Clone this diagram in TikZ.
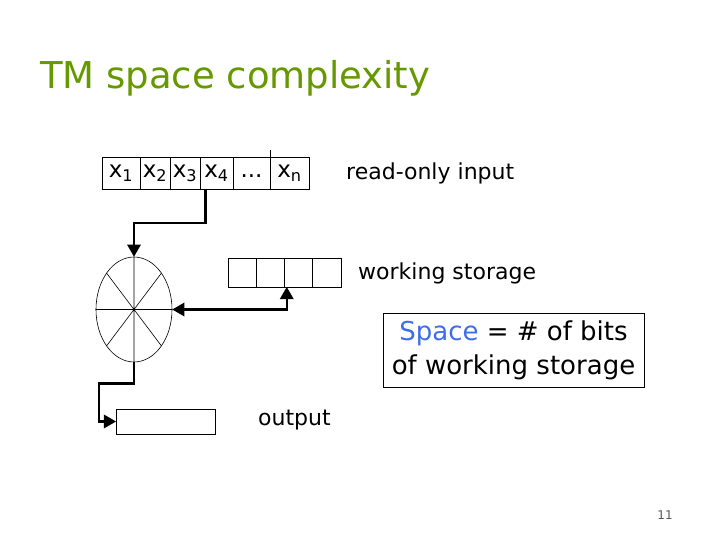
\documentclass[tikz,border=0pt]{standalone}
\usepackage{fontspec}
\setmainfont{DejaVu Sans}
\usetikzlibrary{arrows,positioning,shapes.geometric}
\definecolor{titlegreen}{RGB}{102,153,0}
\definecolor{spaceblue}{RGB}{60,110,230}
\tikzset{
    cell/.style={draw, line width=0.9, minimum height=32, inner sep=0, outer sep=0, text height=14, text depth=4, font=\fontsize{23}{26}\selectfont},
    wcell/.style={draw, line width=0.9, minimum width=28.3, minimum height=29, inner sep=0, outer sep=0},
    wire/.style={line width=2.4, -triangle 60},
    note/.style={font=\fontsize{22}{26}\selectfont, inner sep=0}
}
\begin{document}
\begin{tikzpicture}
  [
    x                       = 1pt,
    y                       = -1pt,
  ]
  \useasboundingbox (0,0) rectangle (720,540);
  \node [anchor=base west, inner sep=0, text=titlegreen, font=\fontsize{37}{42}\selectfont] (title) at (40,89) {TM space complexity};
  \node [cell, minimum width=38, anchor=north west] (x1) at (102,157) {x\textsubscript{1}};
  \node [cell, minimum width=30, right=0pt of x1] (x2) {x\textsubscript{2}};
  \node [cell, minimum width=30, right=0pt of x2] (x3) {x\textsubscript{3}};
  \node [cell, minimum width=33, right=0pt of x3] (x4) {x\textsubscript{4}};
  \node [cell, minimum width=37, right=0pt of x4] (dots) {...};
  \node [cell, minimum width=39, right=0pt of dots] (xn) {x\textsubscript{n}};
  \draw [line width=0.9] (xn.north west) -- ++(0,-7);
  \node [note, anchor=west] (input) at (346,173) {read-only input};
  \node [ellipse, draw, line width=0.6, minimum width=76, minimum height=105, inner sep=0] (fsm) at (134,309.5) {};
  \draw [line width=0.6] (fsm.north) -- (fsm.south) (fsm.west) -- (fsm.east)
    (fsm.127) -- (fsm.307) (fsm.53) -- (fsm.233);
  \node [wcell, anchor=north west] (w1) at (228,258) {};
  \node [wcell, right=0pt of w1] (w2) {};
  \node [wcell, right=0pt of w2] (w3) {};
  \node [wcell, right=0pt of w3] (w4) {};
  \node [note, anchor=west] (work) at (358,273) {working storage};
  \node [draw, line width=0.9, minimum width=261, minimum height=74, align=center, inner sep=0, font=\fontsize{26}{34}\selectfont] (space) at (513.5,350) {\textcolor{spaceblue}{Space} = \# of bits\\of working storage};
  \node [draw, line width=0.9, minimum width=99, minimum height=25, inner sep=0, outer sep=0, anchor=north west] (out) at (116,409) {};
  \node [note, anchor=west] (outlabel) at (258,420) {output};
  \node [text=black!65, font=\fontsize{12}{14}\selectfont] (page) at (665,515) {11};
  \draw [wire] ([xshift=-11pt]x4.south) -- ++(0,34) -| (fsm.north);
  \draw [wire, triangle 60-triangle 60] (fsm.east) -| ([xshift=-12pt]w3.south);
  \draw [wire] (fsm.south) -- ++(0,21) -| ([xshift=-17pt]out.west) -- (out.west);
\end{tikzpicture}
\end{document}
